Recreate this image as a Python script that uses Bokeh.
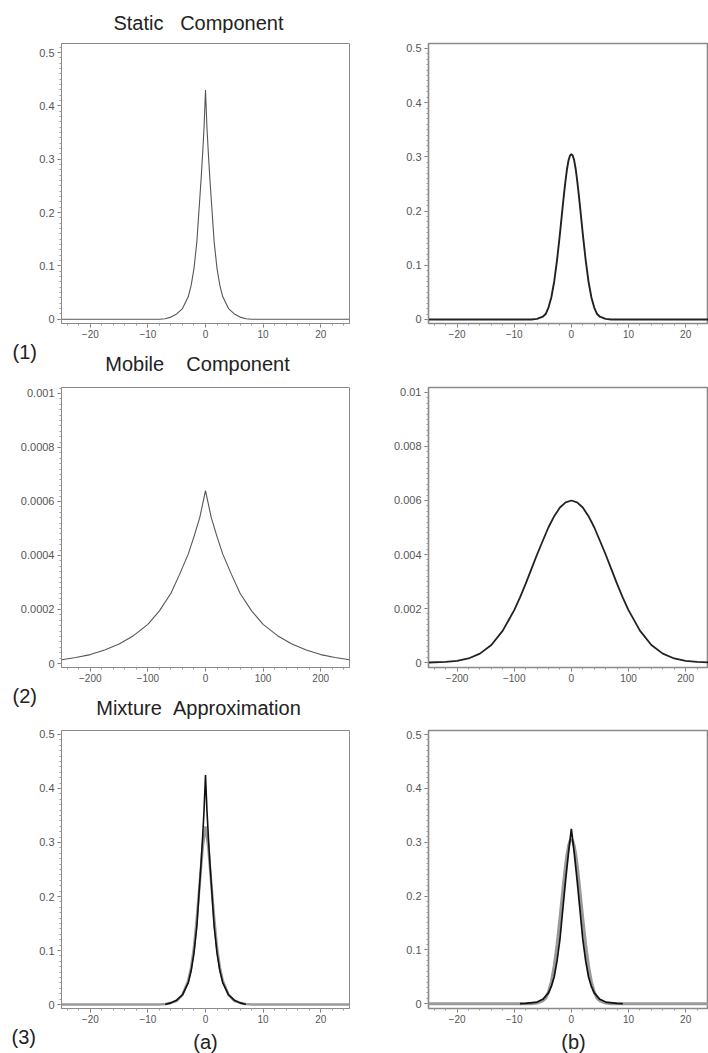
from bokeh.plotting import figure
from bokeh.layouts import row, column
from bokeh.models import Range1d, SingleIntervalTicker, CustomJSTickFormatter, Label
from bokeh.embed import file_html
from bokeh.resources import INLINE

# ---------------- data ----------------
# (1a) static component
static_a_x = [-25, -8, -7, -6, -5, -4, -3, -2.5, -2, -1.5, -1, -0.75, -0.5, -0.25, 0,
              0.25, 0.5, 0.75, 1, 1.5, 2, 2.5, 3, 4, 5, 6, 7, 8, 25]
static_a_y = [0, 0, 0.001, 0.004, 0.010, 0.020, 0.042, 0.063, 0.095, 0.145, 0.225, 0.265, 0.31, 0.36, 0.43,
              0.36, 0.31, 0.265, 0.225, 0.145, 0.095, 0.063, 0.042, 0.020, 0.010, 0.004, 0.001, 0, 0]
# (1b) static component, normal approximation
static_b_x = [-25, -7, -6, -5, -4.5, -4, -3.5, -3, -2.5, -2, -1.5, -1.25, -1, -0.75, -0.5, -0.25, 0,
              0.25, 0.5, 0.75, 1, 1.25, 1.5, 2, 2.5, 3, 3.5, 4, 4.5, 5, 6, 7, 25]
static_b_y = [0, 0, 0.001, 0.005, 0.010, 0.022, 0.041, 0.070, 0.110, 0.158, 0.210, 0.235, 0.258, 0.278,
              0.293, 0.302, 0.305,
              0.302, 0.293, 0.278, 0.258, 0.235, 0.210, 0.158, 0.110, 0.070, 0.041, 0.022, 0.010, 0.005,
              0.001, 0, 0]
# (2a) mobile component
mobile_a_x = [-250, -225, -200, -175, -150, -125, -100, -80, -60, -45, -30, -20, -10, 0,
              10, 20, 30, 45, 60, 80, 100, 125, 150, 175, 200, 225, 250]
mobile_a_y = [0.000014, 0.000022, 0.000033, 0.000050, 0.000072, 0.000103, 0.000145, 0.000195, 0.00026,
              0.00033, 0.000405, 0.00047, 0.00054, 0.00064,
              0.00054, 0.00047, 0.000405, 0.00033, 0.00026, 0.000195, 0.000145, 0.000103, 0.000072,
              0.000050, 0.000033, 0.000022, 0.000014]
# (2b) mobile component, normal approximation
mobile_b_x = [-250, -220, -200, -180, -160, -140, -120, -100, -90, -80, -70, -60, -50, -40, -30, -20, -10, 0,
              10, 20, 30, 40, 50, 60, 70, 80, 90, 100, 120, 140, 160, 180, 200, 220, 250]
mobile_b_y = [0, 0.00002, 0.00006, 0.00015, 0.00033, 0.00065, 0.00118, 0.00194, 0.00240, 0.00291, 0.00346,
              0.0040, 0.00451, 0.00501, 0.00542, 0.00574, 0.00593, 0.0060,
              0.00593, 0.00574, 0.00542, 0.00501, 0.00451, 0.0040, 0.00346, 0.00291, 0.00240, 0.00194,
              0.00118, 0.00065, 0.00033, 0.00015, 0.00006, 0.00002, 0]
# (3a) mixture approximation: exact (black) and mixture (grey)
mix_a_true_x = [-7, -6, -5, -4, -3, -2.5, -2, -1.5, -1, -0.75, -0.5, -0.25, 0,
                0.25, 0.5, 0.75, 1, 1.5, 2, 2.5, 3, 4, 5, 6, 7]
mix_a_true_y = [0, 0.003, 0.008, 0.018, 0.040, 0.062, 0.095, 0.145, 0.225, 0.265, 0.31, 0.36, 0.425,
                0.36, 0.31, 0.265, 0.225, 0.145, 0.095, 0.062, 0.040, 0.018, 0.008, 0.003, 0]
mix_a_mix_x = [-25, -8, -7, -6, -5, -4, -3, -2.5, -2, -1.5, -1, -0.5, 0,
               0.5, 1, 1.5, 2, 2.5, 3, 4, 5, 6, 7, 8, 25]
mix_a_mix_y = [0, 0, 0.001, 0.003, 0.007, 0.018, 0.044, 0.068, 0.105, 0.16, 0.225, 0.29, 0.33,
               0.29, 0.225, 0.16, 0.105, 0.068, 0.044, 0.018, 0.007, 0.003, 0.001, 0, 0]
# (3b) mixture approximation: exact (black) and mixture (grey)
mix_b_true_x = [-9, -8, -6, -5, -4, -3.5, -3, -2.5, -2, -1.5, -1, -0.5, 0,
                0.5, 1, 1.5, 2, 2.5, 3, 3.5, 4, 5, 6, 8, 9]
mix_b_true_y = [0, 0.0005, 0.003, 0.008, 0.020, 0.032, 0.050, 0.080, 0.120, 0.175, 0.23, 0.28, 0.325,
                0.28, 0.23, 0.175, 0.120, 0.080, 0.050, 0.032, 0.020, 0.008, 0.003, 0.0005, 0]
mix_b_mix_x = static_b_x
mix_b_mix_y = static_b_y

titles = ["Static\u00a0\u00a0\u00a0Component", "Mobile\u00a0\u00a0\u00a0\u00a0Component",
          "Mixture\u00a0\u00a0Approximation"]
row_tags = ["(1)", "(2)", "(3)"]
col_tags = ["(a)", "(b)"]

# ---------------- styling ----------------
FONT = "Liberation Sans"
PAGE_W = 708
fmt = CustomJSTickFormatter(code="var s = String(parseFloat(tick.toFixed(6))); return s.replace('-', '\u2212');")


def make_panel(spec):
    p = figure(width=spec["width"], height=spec["height"],
               x_range=Range1d(*spec["xr"]), y_range=Range1d(*spec["yr"]),
               output_backend="svg", toolbar_location=None,
               min_border_left=spec["bl"], min_border_right=spec["br"],
               min_border_top=spec["bt"], min_border_bottom=spec["bb"])
    p.xgrid.visible = False
    p.ygrid.visible = False
    p.background_fill_color = "white"
    p.border_fill_color = "white"
    p.outline_line_color = "#8a8a8a"
    p.outline_line_width = spec.get("ow", 1)
    p.xaxis.ticker = SingleIntervalTicker(interval=spec["xi"], num_minor_ticks=5)
    p.yaxis.ticker = SingleIntervalTicker(interval=spec["yi"], num_minor_ticks=10)
    for ax in (p.xaxis[0], p.yaxis[0]):
        ax.formatter = fmt
        ax.axis_line_color = "#8a8a8a"
        ax.major_tick_line_color = "#777777"
        ax.minor_tick_line_color = "#999999"
        ax.major_tick_in = 0
        ax.major_tick_out = 4
        ax.minor_tick_in = 0
        ax.minor_tick_out = 2
        ax.major_label_text_font = FONT
        ax.major_label_text_color = "#555555"
    p.xaxis.major_label_text_font_size = "10px"
    p.yaxis.major_label_text_font_size = "11px"
    p.xaxis.major_label_standoff = 2
    p.yaxis.major_label_standoff = 3
    return p


def make_band(height, items):
    """A text strip whose frame is the whole canvas; items are (x, y, text, size, align) in px."""
    b = figure(width=PAGE_W, height=height, x_range=Range1d(0, PAGE_W), y_range=Range1d(height, 0),
               output_backend="svg", toolbar_location=None, x_axis_type=None, y_axis_type=None,
               min_border_left=0, min_border_right=0, min_border_top=0, min_border_bottom=0)
    b.outline_line_color = None
    b.background_fill_color = "white"
    b.border_fill_color = "white"
    for g in b.grid:
        g.visible = False
    for (x, y, text, size, align) in items:
        b.add_layout(Label(x=x, y=y, text=text, text_align=align, text_baseline="middle",
                           text_font=FONT, text_font_size=size, text_color="#222222"))
    return b


LW, RW = 385, PAGE_W - 385
L = dict(width=LW, bl=61, br=LW - 349)
R = dict(width=RW, bl=428 - LW, br=0, ow=1.6)
specs = {
    "1a": dict(L, height=309, bt=10, bb=19, xr=(-25, 25), yr=(-0.008, 0.517), xi=10, yi=0.1),
    "1b": dict(R, height=309, bt=10, bb=19, xr=(-25, 24), yr=(-0.0075, 0.509), xi=10, yi=0.1),
    "2a": dict(L, height=305, bt=6, bb=19, xr=(-250, 250), yr=(-0.0000148, 0.001022), xi=100, yi=0.0002),
    "2b": dict(R, height=305, bt=6, bb=19, xr=(-250, 240), yr=(-0.000185, 0.010185), xi=100, yi=0.002),
    "3a": dict(L, height=304, bt=7, bb=19, xr=(-25, 25), yr=(-0.0074, 0.5074), xi=10, yi=0.1),
    "3b": dict(R, height=304, bt=7, bb=19, xr=(-25, 24), yr=(-0.009, 0.5075), xi=10, yi=0.1),
}
P = {k: make_panel(v) for k, v in specs.items()}

P["1a"].line(static_a_x, static_a_y, line_color="#555555", line_width=1.1)
P["1b"].line(static_b_x, static_b_y, line_color="#222222", line_width=1.9)
P["2a"].line(mobile_a_x, mobile_a_y, line_color="#555555", line_width=1.1)
P["2b"].line(mobile_b_x, mobile_b_y, line_color="#222222", line_width=1.8)
P["3a"].line(mix_a_mix_x, mix_a_mix_y, line_color="#9a9a9a", line_width=2.6)
P["3a"].line(mix_a_true_x, mix_a_true_y, line_color="#111111", line_width=1.6)
P["3b"].line(mix_b_mix_x, mix_b_mix_y, line_color="#9a9a9a", line_width=3.0)
P["3b"].line(mix_b_true_x, mix_b_true_y, line_color="#111111", line_width=1.7)

# text strips between the panel rows (y measured from each strip's top)
band0 = make_band(33, [(198, 22, titles[0], "20px", "center")])
band1 = make_band(39, [(12, 9, row_tags[0], "20px", "left"),
                       (197, 21, titles[1], "20px", "center")])
band2 = make_band(37, [(12, 9, row_tags[1], "20px", "left"),
                       (198, 21, titles[2], "20px", "center")])
band3 = make_band(26, [(11, 9, row_tags[2], "20px", "left"),
                       (205, 14, col_tags[0], "20px", "center"),
                       (573, 14, col_tags[1], "20px", "center")])

layout = column(band0, row(P["1a"], P["1b"]), band1, row(P["2a"], P["2b"]),
                band2, row(P["3a"], P["3b"]), band3)

open("out.html", "w").write(file_html(layout, INLINE))
